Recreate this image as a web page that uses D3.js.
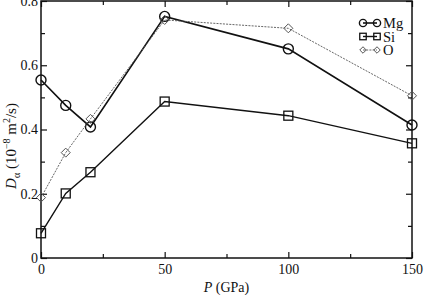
<!DOCTYPE html>
<html>
<head>
<meta charset="utf-8">
<script src="https://cdn.jsdelivr.net/npm/d3@7"></script>
<style>
  body { margin: 0; background: #fff; }
  svg text { font-family: "Liberation Serif", "DejaVu Serif", "Times New Roman", serif; }
</style>
</head>
<body>
<div id="chart"></div>
<script>
// data
var pressure = [0, 10, 20, 50, 100, 150];
var mgValues = [0.554, 0.475, 0.408, 0.752, 0.651, 0.414];
var siValues = [0.077, 0.201, 0.267, 0.487, 0.443, 0.357];
var oValues = [0.188, 0.328, 0.433, 0.741, 0.715, 0.505];
var xTicks = [0, 50, 100, 150];
var xMinor = [25, 75, 125];
var yTicks = [0, 0.2, 0.4, 0.6, 0.8];
var yMinor = [0.1, 0.3, 0.5, 0.7];

var W = 425, H = 295;
var serif = "Liberation Serif, DejaVu Serif, serif";

var svg = d3.select("#chart")
    .append("svg")
    .attr("width", W)
    .attr("height", H)
    .attr("font-family", serif);

var x = d3.scaleLinear().domain([0, 150]).range([41, 412]);
var y = d3.scaleLinear().domain([0, 0.8]).range([258, 1]);

// frame
svg.append("rect")
    .attr("x", x(0))
    .attr("y", y(0.8))
    .attr("width", x(150) - x(0))
    .attr("height", y(0) - y(0.8))
    .attr("fill", "none")
    .attr("stroke", "#111")
    .attr("stroke-width", 1.5);

function styleAxis(g) {
    g.attr("font-family", serif);
    g.select(".domain").remove();
    g.selectAll("line").attr("stroke", "#111").attr("stroke-width", 1.2);
    g.selectAll("text")
        .style("font-size", "14px")
        .style("font-family", serif)
        .attr("fill", "#111");
}

// bottom axis
svg.append("g")
    .attr("transform", "translate(0," + y(0) + ")")
    .call(d3.axisBottom(x).tickValues(xTicks).tickFormat(d3.format("d")).tickSize(-6).tickPadding(6))
    .call(styleAxis);
svg.append("g")
    .attr("transform", "translate(0," + y(0) + ")")
    .call(d3.axisBottom(x).tickValues(xMinor).tickFormat("").tickSize(-4))
    .call(styleAxis);
// top axis
svg.append("g")
    .attr("transform", "translate(0," + y(0.8) + ")")
    .call(d3.axisTop(x).tickValues(xTicks).tickFormat("").tickSize(-6))
    .call(styleAxis);
svg.append("g")
    .attr("transform", "translate(0," + y(0.8) + ")")
    .call(d3.axisTop(x).tickValues(xMinor).tickFormat("").tickSize(-4))
    .call(styleAxis);

// left axis
svg.append("g")
    .attr("transform", "translate(" + x(0) + ",0)")
    .call(d3.axisLeft(y).tickValues(yTicks).tickFormat(function (d) { return d === 0 ? "0" : d3.format(".1f")(d); }).tickSize(-6).tickPadding(3))
    .call(styleAxis);
svg.append("g")
    .attr("transform", "translate(" + x(0) + ",0)")
    .call(d3.axisLeft(y).tickValues(yMinor).tickFormat("").tickSize(-4))
    .call(styleAxis);
// right axis
svg.append("g")
    .attr("transform", "translate(" + x(150) + ",0)")
    .call(d3.axisRight(y).tickValues(yTicks).tickFormat("").tickSize(-6))
    .call(styleAxis);
svg.append("g")
    .attr("transform", "translate(" + x(150) + ",0)")
    .call(d3.axisRight(y).tickValues(yMinor).tickFormat("").tickSize(-4))
    .call(styleAxis);

// series
var series = [
    { name: "Mg", values: mgValues, marker: "circle", width: 1.6, dash: null, color: "#111" },
    { name: "Si", values: siValues, marker: "square", width: 1.4, dash: null, color: "#111" },
    { name: "O", values: oValues, marker: "diamond", width: 0.9, dash: "2,1.2", color: "#555" }
];

var line = d3.line()
    .x(function (d) { return x(d.p); })
    .y(function (d) { return y(d.v); });

function drawMarker(g, type, cx, cy, color, r) {
    if (type === "circle") {
        g.append("circle").attr("cx", cx).attr("cy", cy).attr("r", r)
            .attr("fill", "none").attr("stroke", "#111").attr("stroke-width", 1.4);
    } else if (type === "square") {
        g.append("rect").attr("x", cx - r * 0.9).attr("y", cy - r * 0.9).attr("width", r * 1.8).attr("height", r * 1.8)
            .attr("fill", "none").attr("stroke", "#111").attr("stroke-width", 1.3);
    } else {
        var h = r * 0.9;
        g.append("path")
            .attr("d", "M" + cx + "," + (cy - h) + "L" + (cx + h) + "," + cy + "L" + cx + "," + (cy + h) + "L" + (cx - h) + "," + cy + "Z")
            .attr("fill", "none").attr("stroke", color).attr("stroke-width", 1);
    }
}

series.forEach(function (s) {
    var pts = pressure.map(function (p, i) { return { p: p, v: s.values[i] }; });
    var g = svg.append("g");
    g.append("path")
        .datum(pts)
        .attr("d", line)
        .attr("fill", "none")
        .attr("stroke", s.color)
        .attr("stroke-width", s.width)
        .attr("stroke-dasharray", s.dash);
    pts.forEach(function (d) {
        drawMarker(g, s.marker, x(d.p), y(d.v), s.color, 5);
    });
});

// legend
var legend = svg.append("g");
series.forEach(function (s, i) {
    var ly = 23 + i * 13.5;
    var lg = legend.append("g");
    lg.append("line")
        .attr("x1", 363).attr("x2", 377)
        .attr("y1", ly).attr("y2", ly)
        .attr("stroke", s.color)
        .attr("stroke-width", s.width)
        .attr("stroke-dasharray", s.dash);
    drawMarker(lg, s.marker, 363, ly, s.color, 3.6);
    drawMarker(lg, s.marker, 377, ly, s.color, 3.6);
    lg.append("text")
        .attr("x", 383)
        .attr("y", ly + 5)
        .style("font-size", "14.5px")
        .attr("fill", "#111")
        .text(s.name);
});

// axis titles
var xt = svg.append("text")
    .attr("x", x(75))
    .attr("y", 292)
    .attr("text-anchor", "middle")
    .style("font-size", "14px")
    .attr("fill", "#111");
xt.append("tspan").style("font-style", "italic").text("P");
xt.append("tspan").text(" (GPa)");

var yt = svg.append("text")
    .attr("transform", "translate(16,146) rotate(-90)")
    .attr("text-anchor", "middle")
    .style("font-size", "15px")
    .attr("fill", "#111");
yt.append("tspan").style("font-style", "italic").text("D");
yt.append("tspan").attr("dy", 4).style("font-size", "10px").text("α");
yt.append("tspan").attr("dy", -4).text(" (10");
yt.append("tspan").attr("dy", -6).style("font-size", "10px").text("−8");
yt.append("tspan").attr("dy", 6).text(" m");
yt.append("tspan").attr("dy", -6).style("font-size", "10px").text("2");
yt.append("tspan").attr("dy", 6).text("/s)");
</script>
</body>
</html>
